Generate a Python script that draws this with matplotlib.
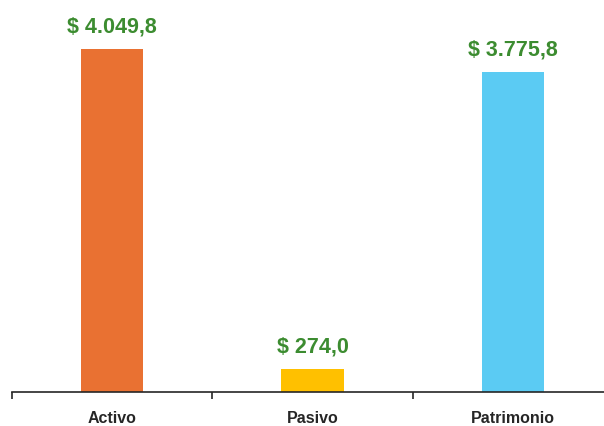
import matplotlib.pyplot as plt

categories = ["Activo", "Pasivo", "Patrimonio"]
values = [4049.8, 274.0, 3775.8]
labels = ["$ 4.049,8", "$ 274,0", "$ 3.775,8"]
colors = ["#E97132", "#FFC000", "#5BCBF3"]

plt.rcParams['font.family'] = ['Liberation Sans', 'DejaVu Sans']

fig = plt.figure(figsize=(6.04, 4.27), dpi=100)
ax = fig.add_axes([12 / 604, 34 / 427, 601 / 604, 393 / 427])

x = range(len(categories))
ax.bar(x, values, width=0.31, color=colors)
for xi, v, lab in zip(x, values, labels):
    ax.annotate(lab, (xi, v), xytext=(0, 12.5), textcoords='offset points',
                ha='center', va='baseline', color='#3C8C30', fontsize=15.5, fontweight='bold')

ax.set_xlim(-0.5, 2.5)
ax.set_ylim(0, 4640)
ax.set_xticks([-0.5, 0.5, 1.5, 2.5])
ax.set_xticklabels([])
ax.set_xticks(list(x), minor=True)
ax.set_xticklabels(categories, minor=True, fontsize=11.5, fontweight='bold', color='#262626')
ax.tick_params(axis='x', which='major', length=5, width=1.2, color='#262626')
ax.tick_params(axis='x', which='minor', length=0, pad=13)
ax.set_yticks([])
for s in ['top', 'right', 'left']:
    ax.spines[s].set_visible(False)
ax.spines['bottom'].set_color('#262626')
ax.spines['bottom'].set_linewidth(1.2)

fig.savefig('out.png', dpi=100)
